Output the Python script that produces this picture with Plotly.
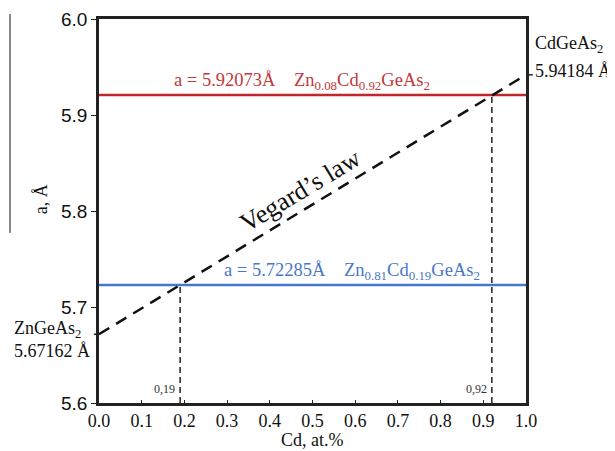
import plotly.graph_objects as go

# Data
x_end = [0.0, 1.0]                 # Cd fraction at the end members
a_end = [5.67162, 5.94184]         # lattice constants of ZnGeAs2 / CdGeAs2
end_names = ["ZnGeAs<sub>2</sub>", "CdGeAs<sub>2</sub>"]
x_meas = [0.19, 0.92]              # measured compositions
a_meas = [5.72285, 5.92073]        # measured lattice constants
meas_labels = ["0,19", "0,92"]
meas_formula = ["Zn<sub>0.81</sub>Cd<sub>0.19</sub>GeAs<sub>2</sub>",
                "Zn<sub>0.08</sub>Cd<sub>0.92</sub>GeAs<sub>2</sub>"]
x_ticks = [0.0, 0.1, 0.2, 0.3, 0.4, 0.5, 0.6, 0.7, 0.8, 0.9, 1.0]
y_ticks = [5.6, 5.7, 5.8, 5.9, 6.0]
x_title = "Cd, at.%"
y_title = "a, Å"

SERIF = "Liberation Serif, Times New Roman, serif"
SANS = "Liberation Sans, Arial, sans-serif"
BLUE = "#4677cf"
RED = "#c0262c"
BLUE_T = "#4a78c8"
RED_T = "#c0393b"
GAP = "&nbsp;" * 4

fig = go.Figure()

# Measured horizontal lines
for a, col in zip(a_meas, [BLUE, RED]):
    fig.add_trace(go.Scatter(x=[x_end[0], x_end[1]], y=[a, a], mode="lines",
                             line=dict(color=col, width=2.5), hoverinfo="skip"))

# Vertical dashed drop lines
for x, a in zip(x_meas, a_meas):
    fig.add_trace(go.Scatter(x=[x, x], y=[y_ticks[0], a], mode="lines",
                             line=dict(color="#222", width=1.5, dash="6px,4px"),
                             hoverinfo="skip"))

# Vegard's law line
fig.add_trace(go.Scatter(x=x_end, y=a_end, mode="lines",
                         line=dict(color="#111", width=2.5, dash="12px,8px"),
                         hoverinfo="skip"))

annotations = []
# Measured labels
annotations.append(dict(x=0.593, y=a_meas[0], xref="x", yref="y",
                        text=f"a = {a_meas[0]:.5f}Å{GAP}{meas_formula[0]}",
                        showarrow=False, yanchor="bottom", yshift=0,
                        font=dict(family=SERIF, size=18.5, color=BLUE_T)))
annotations.append(dict(x=0.475, y=a_meas[1], xref="x", yref="y",
                        text=f"a = {a_meas[1]:.5f}Å{GAP}{meas_formula[1]}",
                        showarrow=False, yanchor="bottom", yshift=0,
                        font=dict(family=SERIF, size=18.5, color=RED_T)))
# Composition labels near bottom
for x, lab in zip(x_meas, meas_labels):
    annotations.append(dict(x=x, y=y_ticks[0], xref="x", yref="y", text=lab,
                            showarrow=False, xanchor="right", yanchor="bottom",
                            xshift=-3, yshift=5,
                            font=dict(family=SERIF, size=12, color="#333")))
# Vegard's law text
annotations.append(dict(x=0.472, y=5.821, xref="x", yref="y", text="Vegard’s law",
                        showarrow=False, textangle=-31,
                        font=dict(family=SERIF, size=26, color="#111")))
# End member labels
annotations.append(dict(x=-0.003, y=a_end[0], xref="paper", yref="y",
                        text=f"{end_names[0]}<br>{a_end[0]:.5f} Å",
                        showarrow=False, xanchor="right", yanchor="middle",
                        align="left", xshift=-6, yshift=-5,
                        font=dict(family=SERIF, size=18, color="#111")))
annotations.append(dict(x=1.0, y=a_end[1], xref="paper", yref="y",
                        text=f"{a_end[1]:.5f} Å",
                        showarrow=False, xanchor="left", yanchor="middle",
                        xshift=7, yshift=4,
                        font=dict(family=SERIF, size=18, color="#111")))
annotations.append(dict(x=1.0, y=a_end[1], xref="paper", yref="y",
                        text=end_names[1],
                        showarrow=False, xanchor="left", yanchor="middle",
                        xshift=7, yshift=30,
                        font=dict(family=SERIF, size=18, color="#111")))
# Axis titles
annotations.append(dict(x=0.501, y=-0.097, xref="paper", yref="paper",
                        text=x_title, showarrow=False,
                        xanchor="center", yanchor="middle",
                        font=dict(family=SERIF, size=18, color="#111")))
annotations.append(dict(x=-0.134, y=0.53, xref="paper", yref="paper",
                        text=y_title, showarrow=False, textangle=-90,
                        xanchor="center", yanchor="middle",
                        font=dict(family=SERIF, size=18, color="#111")))

shapes = [
    # right-side tick at CdGeAs2 value
    dict(type="line", xref="paper", yref="y", x0=1.0, x1=1.016,
         y0=a_end[1], y1=a_end[1], line=dict(color="#222", width=1.5)),
    # left-side tick at ZnGeAs2 value
    dict(type="line", xref="paper", yref="y", x0=-0.012, x1=0.0,
         y0=a_end[0], y1=a_end[0], line=dict(color="#222", width=1.5)),
    # stray vertical line at far left
    dict(type="line", xref="paper", yref="paper", x0=-0.2084, x1=-0.2084,
         y0=0.443, y1=1.013, line=dict(color="#111", width=1)),
]

# The page body adds an 8px margin, so the figure is sized to fit the window.
fig.update_layout(
    width=607, height=443,
    margin=dict(l=91, r=89, t=11, b=48),
    paper_bgcolor="white", plot_bgcolor="white",
    showlegend=False,
    annotations=annotations,
    shapes=shapes,
    xaxis=dict(range=[0, 1], tickvals=x_ticks, tickformat=".1f",
               automargin=False,
               showgrid=False, zeroline=False, showline=True, mirror=True,
               linecolor="#222", linewidth=2.5, ticks="inside", ticklen=3,
               tickcolor="#222",
               tickfont=dict(family=SERIF, size=18, color="#111")),
    yaxis=dict(range=[5.6, 6.0], tickvals=y_ticks, tickformat=".1f",
               automargin=False,
               showgrid=False, zeroline=False, showline=True, mirror=True,
               linecolor="#222", linewidth=2.5, ticks="outside", ticklen=5,
               tickcolor="#222",
               tickfont=dict(family=SANS, size=19, color="#111")),
)

fig.write_html("out.html")
